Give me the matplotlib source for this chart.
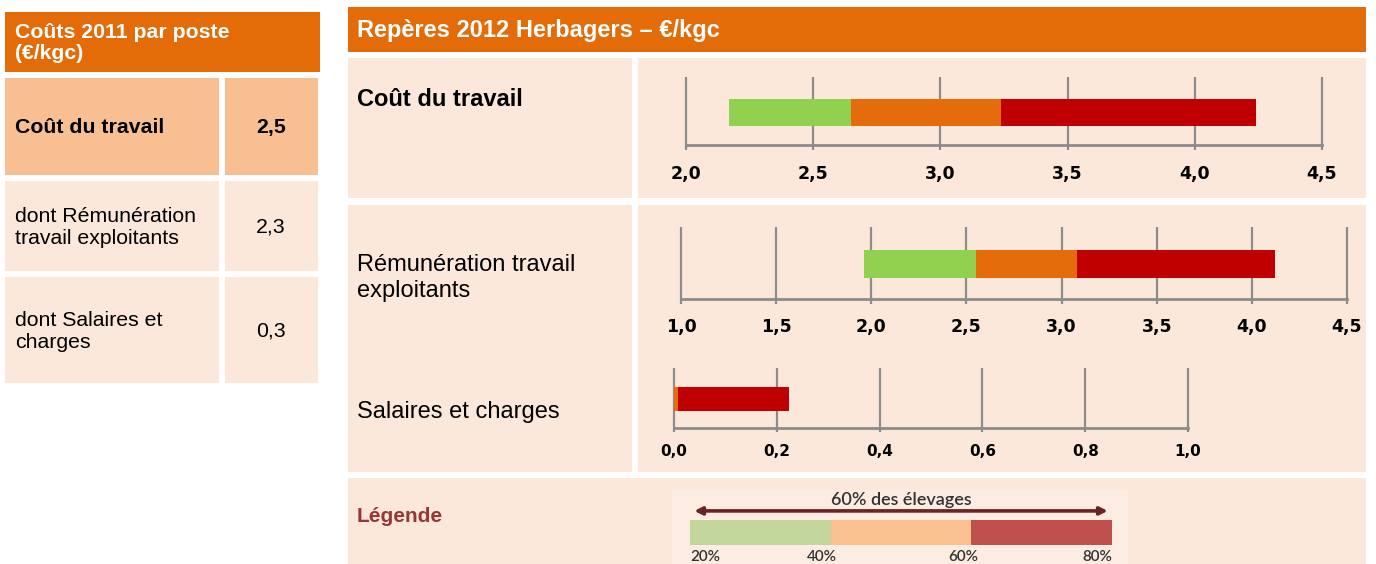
"""Repères coût du travail - herbagers, recreated with matplotlib."""
import matplotlib
matplotlib.use('Agg')
import matplotlib.pyplot as plt
from matplotlib.patches import Rectangle

# ---- data ----
table_labels = ["Coût du travail", "dont Rémunération\ntravail exploitants", "dont Salaires et\ncharges"]
table_values = ["2,5", "2,3", "0,3"]
categories = ["Coût du travail", "Rémunération travail\nexploitants", "Salaires et charges"]
# thresholds: 20%, 40%, 60%, 80% of farms
q20 = [2.17, 1.96, 0.0]
q40 = [2.65, 2.55, 0.0]
q60 = [3.24, 3.08, 0.007]
q80 = [4.24, 4.12, 0.223]
axis_min = [2.0, 1.0, 0.0]
axis_max = [4.5, 4.5, 1.0]
axis_step = [0.5, 0.5, 0.2]
legend_pcts = [20, 40, 60, 80]

W, H = 1376, 564
ORANGE_HDR = '#E36C09'
PALE = '#FCE8DA'
PEACH = '#F8BF92'
GREEN, ORANGE, RED = '#92D050', '#E46C0A', '#C00000'
GRID = '#8C8C8C'
FONT = ['Liberation Sans', 'DejaVu Sans']
LEGFONT = ['Lato', 'DejaVu Sans']

fig = plt.figure(figsize=(W / 100, H / 100), dpi=100)
fig.patch.set_facecolor('white')

bg = fig.add_axes([0, 0, 1, 1])
bg.set_xlim(0, W)
bg.set_ylim(H, 0)
bg.axis('off')


def box(x0, y0, x1, y1, color):
    bg.add_patch(Rectangle((x0, y0), x1 - x0, y1 - y0, color=color, lw=0))


def px_axes(x0, y0, x1, y1):
    return fig.add_axes([x0 / W, 1 - y1 / H, (x1 - x0) / W, (y1 - y0) / H])


# ---- left table ----
box(5, 12, 320, 72, ORANGE_HDR)
bg.text(15, 43, "Coûts 2011 par poste\n(€/kgc)", color='white', fontsize=15.3,
        fontweight='bold', family=FONT, va='center', ha='left', linespacing=1.15)
rows_y = [(78, 175), (181, 271), (277, 383)]
for i, (y0, y1) in enumerate(rows_y):
    col = PEACH if i == 0 else PALE
    box(5, y0, 219, y1, col)
    box(225, y0, 318, y1, col)
    wt = 'bold' if i == 0 else 'normal'
    ym = (y0 + y1) / 2 + 1
    bg.text(15, ym, table_labels[i], fontsize=15.3, fontweight=wt, family=FONT,
            va='center', ha='left', linespacing=1.2)
    bg.text(271, ym, table_values[i], fontsize=15.3, fontweight=wt, family=FONT,
            va='center', ha='center')

# ---- right panel ----
box(348, 7, 1366, 52, ORANGE_HDR)
bg.text(357, 31, "Repères 2012 Herbagers – €/kgc", color='white', fontsize=17,
        fontweight='bold', family=FONT, va='center', ha='left')
box(348, 58, 632, 198, PALE)
box(638, 58, 1366, 198, PALE)
box(348, 205, 632, 472, PALE)
box(638, 205, 1366, 472, PALE)
box(348, 478, 1366, 564, PALE)
box(672, 490, 1128, 564, '#FCECE1')

label_y = [100, 278, 412]
for i, cat in enumerate(categories):
    bg.text(357, label_y[i], cat, fontsize=17, fontweight='bold' if i == 0 else 'normal',
            family=FONT, va='center', ha='left', linespacing=1.22)

bg.text(357, 516, "Légende", color='#953735', fontsize=15, fontweight='bold',
        family=FONT, va='center', ha='left')

# ---- range bars ----
chart_boxes = [(686, 77, 1322, 150), (681, 227, 1347, 304), (674, 368, 1188, 432)]
pads = [11, 10, 9]
tick_fs = [12.5, 12.5, 11]
for i, (x0, y0, x1, y1) in enumerate(chart_boxes):
    ax = px_axes(x0, y0, x1, y1)
    ax.set_facecolor('none')
    ax.set_xlim(axis_min[i], axis_max[i])
    ax.set_ylim(0, 1)
    n = int(round((axis_max[i] - axis_min[i]) / axis_step[i]))
    ticks = [axis_min[i] + k * axis_step[i] for k in range(n + 1)]
    ax.vlines(ticks, 0, 1, color=GRID, lw=1.6, clip_on=False, zorder=1)
    ax.plot([axis_min[i], axis_max[i]], [0.07, 0.07], color=GRID, lw=2, clip_on=False, zorder=1)
    segs = [(q20[i], q40[i], GREEN), (q40[i], q60[i], ORANGE), (q60[i], q80[i], RED)]
    for a, b, c in segs:
        ax.barh(0.52, b - a, left=a, height=0.37, color=c, lw=0, zorder=2)
    ax.set_xticks(ticks)
    ax.set_xticklabels([f"{t:.1f}".replace('.', ',') for t in ticks],
                       fontweight='bold', family='DejaVu Sans', fontsize=tick_fs[i])
    ax.tick_params(axis='x', length=0, pad=pads[i])
    ax.set_yticks([])
    for s in ax.spines.values():
        s.set_visible(False)

# ---- legend scale ----
lg = px_axes(690, 492, 1112, 562)
lg.set_facecolor('none')
lg.set_xlim(legend_pcts[0], legend_pcts[-1])
lg.set_ylim(0, 1)
lg.axis('off')
leg_cols = ['#C3D69B', '#FAC090', '#C0504D']
for k in range(len(legend_pcts) - 1):
    lg.barh(0.42, legend_pcts[k + 1] - legend_pcts[k], left=legend_pcts[k], height=0.36,
            color=leg_cols[k], lw=0)
lg.annotate('', xy=(legend_pcts[0] + 0.6, 0.73), xytext=(legend_pcts[-1] - 0.6, 0.73),
            arrowprops=dict(arrowstyle='<|-|>', color='#6B2424', lw=2.6,
                            mutation_scale=11, shrinkA=0, shrinkB=0))
lg.text((legend_pcts[0] + legend_pcts[-1]) / 2, 0.885, "60% des élevages", fontsize=13,
        family=LEGFONT, fontweight='semibold', color='#333333', ha='center', va='center')
for k, p in enumerate(legend_pcts):
    if k == 0:
        ha, dx = 'left', 0
    elif k == len(legend_pcts) - 1:
        ha, dx = 'right', 0
    else:
        ha, dx = 'center', -6
    lg.annotate(f"{p}%", xy=(p, 0.07), xytext=(dx, 0), textcoords='offset points',
                fontsize=11, family=LEGFONT, fontweight='semibold', color='#333333',
                ha=ha, va='center')

fig.savefig('out.png', dpi=100)
plt.close(fig)
